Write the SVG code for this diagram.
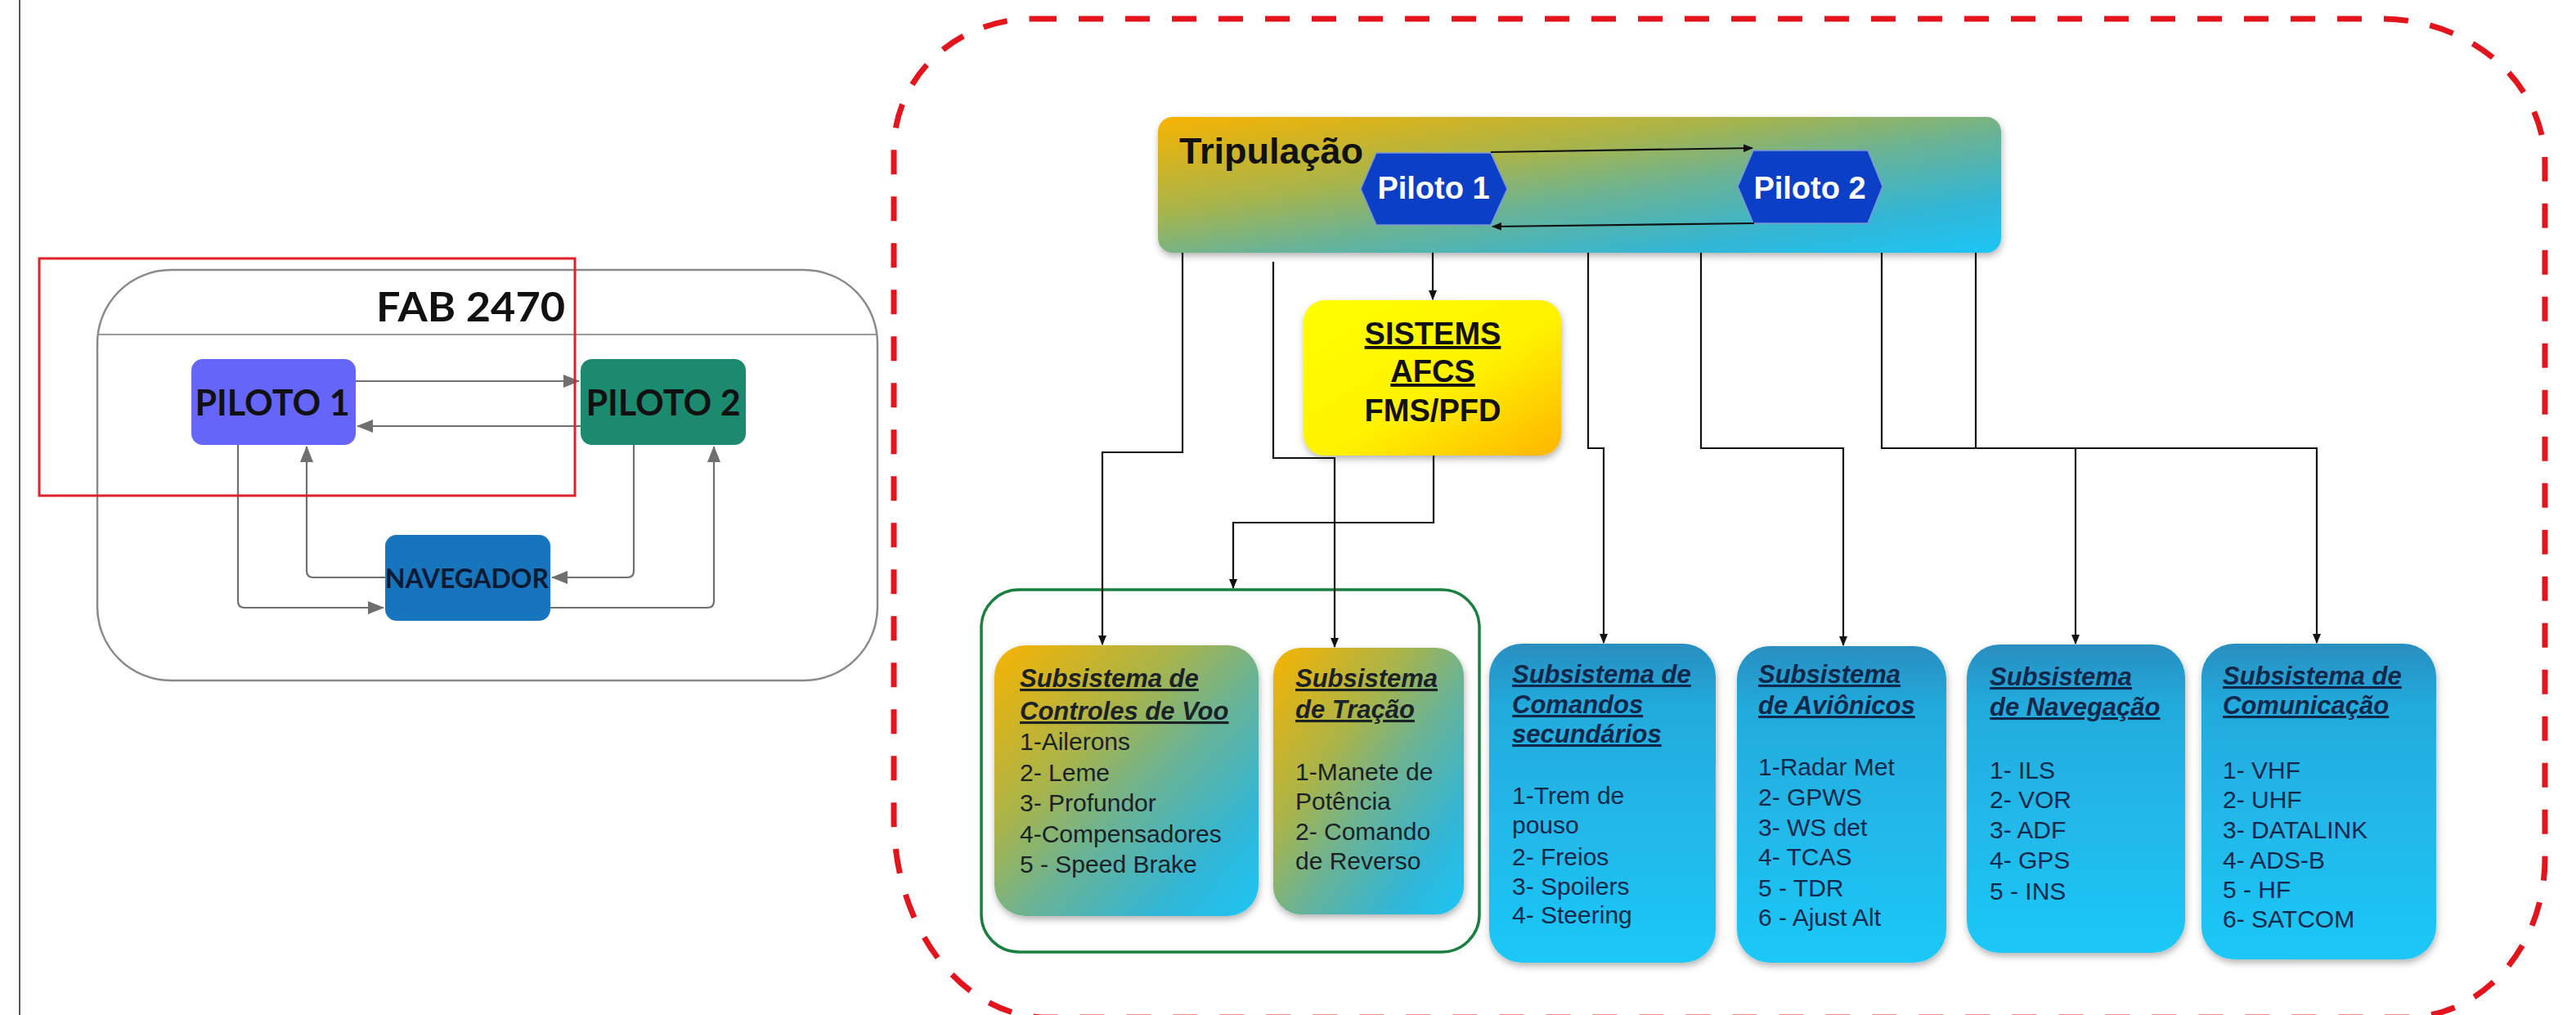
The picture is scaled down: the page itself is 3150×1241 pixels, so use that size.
<svg xmlns="http://www.w3.org/2000/svg" width="3150" height="1241" viewBox="0 0 3150 1241">
<defs>
<style>
.lt{font-family:Lato,"Open Sans","Liberation Sans",sans-serif;font-weight:bold}
.ar{font-family:"Liberation Sans",Arial,sans-serif}
.ttl{font-family:"Liberation Sans",Arial,sans-serif;font-weight:bold;font-style:italic;text-decoration:underline;font-size:31px}
.itm{font-family:"Liberation Sans",Arial,sans-serif;font-size:30px}
.gline{fill:none;stroke:#6f6f6f;stroke-width:2.2}
.bline{fill:none;stroke:#111;stroke-width:2.2}
.cy{fill:url(#gCyan);filter:url(#sh)}
.cyt{fill:#12284a}
.grt{fill:#1b2226}
</style>
<linearGradient id="gMix" x1="0" y1="0" x2="1" y2="1">
<stop offset="0" stop-color="#f8b300"/>
<stop offset="0.35" stop-color="#a9b44a"/>
<stop offset="0.55" stop-color="#6bb394"/>
<stop offset="0.8" stop-color="#32b6d6"/>
<stop offset="1" stop-color="#1cc6f6"/>
</linearGradient>
<linearGradient id="gCyan" x1="0" y1="0" x2="0" y2="1">
<stop offset="0" stop-color="#2a8ec0"/>
<stop offset="0.2" stop-color="#22abdd"/>
<stop offset="1" stop-color="#1ec8f7"/>
</linearGradient>
<linearGradient id="gYel" x1="0" y1="0" x2="1" y2="1">
<stop offset="0" stop-color="#ffff00"/>
<stop offset="0.55" stop-color="#fff200"/>
<stop offset="1" stop-color="#ffb400"/>
</linearGradient>
<filter id="sh" x="-10%" y="-10%" width="120%" height="125%">
<feDropShadow dx="1" dy="4" stdDeviation="4" flood-color="#000" flood-opacity="0.3"/>
</filter>
<marker id="ag" markerWidth="20" markerHeight="16" refX="19" refY="8" orient="auto" markerUnits="userSpaceOnUse">
<path d="M0,0 L20,8 L0,16 Z" fill="#6f6f6f"/>
</marker>
<marker id="ab" markerWidth="12" markerHeight="10" refX="11" refY="5" orient="auto" markerUnits="userSpaceOnUse">
<path d="M0,0 L12,5 L0,10 Z" fill="#111"/>
</marker>
</defs>
<rect width="3150" height="1241" fill="#ffffff"/>
<line x1="24" y1="0" x2="24" y2="1241" stroke="#222" stroke-width="1.5"/>

<!-- Left diagram -->
<g id="fab2470">
<rect x="119" y="330" width="954" height="502" rx="90" ry="90" fill="none" stroke="#8a8a8a" stroke-width="2.5"/>
<line x1="121" y1="409" x2="1072" y2="409" stroke="#9a9a9a" stroke-width="2"/>
<text class="lt" x="460" y="393" font-size="50" fill="#111" textLength="231" lengthAdjust="spacingAndGlyphs">FAB 2470</text>
</g>
<g id="piloto1">
<rect x="234" y="439" width="201" height="105" rx="14" fill="#6565fa"/>
<text class="lt" x="333" y="508" font-size="43" fill="#111" text-anchor="middle">PILOTO 1</text>
</g>
<g id="piloto2">
<rect x="710" y="439" width="202" height="105" rx="14" fill="#1c8a6e"/>
<text class="lt" x="811" y="508" font-size="43" fill="#111" text-anchor="middle">PILOTO 2</text>
</g>
<g id="navegador">
<rect x="471" y="654" width="202" height="105" rx="14" fill="#1675bc"/>
<text class="lt" x="571" y="719" font-size="32" fill="#0b1a33" text-anchor="middle" textLength="200" lengthAdjust="spacingAndGlyphs">NAVEGADOR</text>
</g>
<g id="left-connectors">
<path class="gline" d="M435,466 H708" marker-end="url(#ag)"/>
<path class="gline" d="M710,521 H437" marker-end="url(#ag)"/>
<path class="gline" d="M291,544 V735 Q291,743 299,743 H469" marker-end="url(#ag)"/>
<path class="gline" d="M471,706 H383 Q375,706 375,698 V546" marker-end="url(#ag)"/>
<path class="gline" d="M775,544 V698 Q775,706 767,706 H675" marker-end="url(#ag)"/>
<path class="gline" d="M673,743 H865 Q873,743 873,735 V546" marker-end="url(#ag)"/>
</g>
<g id="highlight">
<rect x="48" y="316" width="655" height="290" fill="none" stroke="#e0202a" stroke-width="3"/>
</g>

<!-- Right diagram -->
<g id="scope">
<path d="M1262,23 H2912 A200,177 0 0 1 3112,200 V1050 A170,194 0 0 1 2942,1244 H1280 A187,244 0 0 1 1093,1000 V183 A169,160 0 0 1 1262,23 Z" fill="none" stroke="#e3141c" stroke-width="7" stroke-dasharray="30 27"/>
</g>

<g id="tripulacao">
<rect x="1416" y="143" width="1031" height="166" rx="18" fill="url(#gMix)" filter="url(#sh)"/>
<text class="ar" x="1442" y="200" font-size="45" font-weight="bold" fill="#111">Tripulação</text>
</g>
<g id="piloto-1">
<polygon points="1664,231 1683,187 1823,187 1843,231 1823,275 1683,275" fill="#0b3fc6" stroke="#7d96d8" stroke-width="1.5"/>
<text class="ar" x="1753" y="243" font-size="38" font-weight="bold" fill="#ffffff" text-anchor="middle">Piloto 1</text>
</g>
<g id="piloto-2">
<polygon points="2125,228 2144,184 2284,184 2302,228 2284,273 2144,273" fill="#0b3fc6" stroke="#7d96d8" stroke-width="1.5"/>
<text class="ar" x="2213" y="243" font-size="38" font-weight="bold" fill="#ffffff" text-anchor="middle">Piloto 2</text>
</g>

<g id="sistems">
<rect x="1594" y="367" width="315" height="190" rx="26" fill="url(#gYel)" filter="url(#sh)"/>
<text class="ar" x="1752" y="421" font-size="38" font-weight="bold" fill="#111" text-anchor="middle" text-decoration="underline">SISTEMS</text>
<text class="ar" x="1752" y="467" font-size="38" font-weight="bold" fill="#111" text-anchor="middle" text-decoration="underline">AFCS</text>
<text class="ar" x="1752" y="515" font-size="38" font-weight="bold" fill="#111" text-anchor="middle">FMS/PFD</text>
</g>

<g id="grupo-primario">
<rect x="1200" y="721" width="609" height="443" rx="46" fill="none" stroke="#1a8040" stroke-width="3.5"/>
</g>

<g id="controles-voo">
<rect x="1216" y="789" width="323" height="331" rx="38" fill="url(#gMix)" filter="url(#sh)"/>
<text class="ttl grt" x="1247" y="840">Subsistema de</text>
<text class="ttl grt" x="1247" y="880">Controles de Voo</text>
<text class="itm grt" x="1247" y="917">1-Ailerons</text>
<text class="itm grt" x="1247" y="955">2- Leme</text>
<text class="itm grt" x="1247" y="992">3- Profundor</text>
<text class="itm grt" x="1247" y="1030">4-Compensadores</text>
<text class="itm grt" x="1247" y="1067">5 - Speed Brake</text>
</g>

<g id="tracao">
<rect x="1557" y="792" width="233" height="326" rx="34" fill="url(#gMix)" filter="url(#sh)"/>
<text class="ttl grt" x="1584" y="840">Subsistema</text>
<text class="ttl grt" x="1584" y="878">de Tração</text>
<text class="itm grt" x="1584" y="954">1-Manete de</text>
<text class="itm grt" x="1584" y="990">Potência</text>
<text class="itm grt" x="1584" y="1027">2- Comando</text>
<text class="itm grt" x="1584" y="1063">de Reverso</text>
</g>

<g id="comandos-secundarios">
<rect class="cy" x="1821" y="787" width="277" height="390" rx="40"/>
<text class="ttl cyt" x="1849" y="835">Subsistema de</text>
<text class="ttl cyt" x="1849" y="872">Comandos</text>
<text class="ttl cyt" x="1849" y="908">secundários</text>
<text class="itm cyt" x="1849" y="983">1-Trem de</text>
<text class="itm cyt" x="1849" y="1019">pouso</text>
<text class="itm cyt" x="1849" y="1058">2- Freios</text>
<text class="itm cyt" x="1849" y="1094">3- Spoilers</text>
<text class="itm cyt" x="1849" y="1129">4- Steering</text>
</g>

<g id="avionicos">
<rect class="cy" x="2124" y="790" width="256" height="387" rx="40"/>
<text class="ttl cyt" x="2150" y="835">Subsistema</text>
<text class="ttl cyt" x="2150" y="873">de Aviônicos</text>
<text class="itm cyt" x="2150" y="948">1-Radar Met</text>
<text class="itm cyt" x="2150" y="985">2- GPWS</text>
<text class="itm cyt" x="2150" y="1022">3- WS det</text>
<text class="itm cyt" x="2150" y="1058">4- TCAS</text>
<text class="itm cyt" x="2150" y="1096">5 - TDR</text>
<text class="itm cyt" x="2150" y="1132">6 - Ajust Alt</text>
</g>

<g id="navegacao">
<rect class="cy" x="2405" y="788" width="267" height="377" rx="40"/>
<text class="ttl cyt" x="2433" y="838">Subsistema</text>
<text class="ttl cyt" x="2433" y="875">de Navegação</text>
<text class="itm cyt" x="2433" y="952">1- ILS</text>
<text class="itm cyt" x="2433" y="988">2- VOR</text>
<text class="itm cyt" x="2433" y="1025">3- ADF</text>
<text class="itm cyt" x="2433" y="1062">4- GPS</text>
<text class="itm cyt" x="2433" y="1100">5 - INS</text>
</g>

<g id="comunicacao">
<rect class="cy" x="2692" y="787" width="287" height="386" rx="40"/>
<text class="ttl cyt" x="2718" y="837">Subsistema de</text>
<text class="ttl cyt" x="2718" y="873">Comunicação</text>
<text class="itm cyt" x="2718" y="952">1- VHF</text>
<text class="itm cyt" x="2718" y="988">2- UHF</text>
<text class="itm cyt" x="2718" y="1025">3- DATALINK</text>
<text class="itm cyt" x="2718" y="1062">4- ADS-B</text>
<text class="itm cyt" x="2718" y="1098">5 - HF</text>
<text class="itm cyt" x="2718" y="1134">6- SATCOM</text>
</g>

<g id="right-connectors">
<path class="bline" d="M1823,186 L2143,181" stroke-width="3" marker-end="url(#ab)"/>
<path class="bline" d="M2145,273 L1825,277" stroke-width="3" marker-end="url(#ab)"/>
<path class="bline" d="M1752,309 V366" marker-end="url(#ab)"/>
<path class="bline" d="M1446,309 V553 H1348 V788" marker-end="url(#ab)"/>
<path class="bline" d="M1557,320 V560 H1632 V791" marker-end="url(#ab)"/>
<path class="bline" d="M1753,557 V639 H1508 V719" marker-end="url(#ab)"/>
<path class="bline" d="M1942,309 V548 H1961 V786" marker-end="url(#ab)"/>
<path class="bline" d="M2080,309 V548 H2254 V789" marker-end="url(#ab)"/>
<path class="bline" d="M2301,309 V548 H2538 V787" marker-end="url(#ab)"/>
<path class="bline" d="M2416,309 V548 H2833 V786" marker-end="url(#ab)"/>
</g>
</svg>
